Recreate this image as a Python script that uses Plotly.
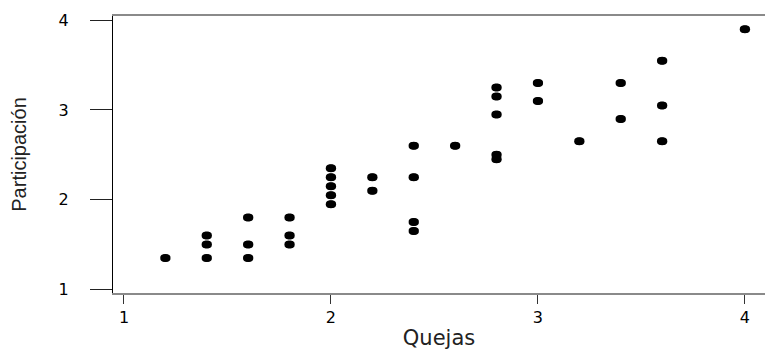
import plotly.graph_objects as go

# Quejas (complaints) vs Participación (participation) scores
quejas = [1.2,
          1.4, 1.4, 1.4,
          1.6, 1.6, 1.6,
          1.8, 1.8, 1.8,
          2.0, 2.0, 2.0, 2.0, 2.0,
          2.2, 2.2,
          2.4, 2.4, 2.4, 2.4,
          2.6,
          2.8, 2.8, 2.8, 2.8, 2.8,
          3.0, 3.0,
          3.2,
          3.4, 3.4,
          3.6, 3.6, 3.6,
          4.0]
participacion = [1.35,
                 1.35, 1.5, 1.6,
                 1.35, 1.5, 1.8,
                 1.5, 1.6, 1.8,
                 1.95, 2.05, 2.15, 2.25, 2.35,
                 2.1, 2.25,
                 1.65, 1.75, 2.25, 2.6,
                 2.6,
                 2.45, 2.5, 2.95, 3.15, 3.25,
                 3.1, 3.3,
                 2.65,
                 2.9, 3.3,
                 2.65, 3.05, 3.55,
                 3.9]
tick_vals = [1, 2, 3, 4]
tick_text = ["1", "2", "3", "4"]

W, H = 765, 350
ML, MR, MT, MB = 113, 0, 16, 57
x_range = [0.947, 4.097]
y_range = [0.959, 4.048]

# points are drawn as flat ellipses: overlapping dots a pixel or two apart
px_per_unit = (W - ML - MR) / (x_range[1] - x_range[0])
dx = 1.4 / px_per_unit

fig = go.Figure()
for off, sz in ((-dx, 7.5), (0.0, 8), (dx, 7.5)):
    fig.add_trace(go.Scatter(
        x=[q + off for q in quejas], y=participacion,
        mode="markers", marker=dict(color="black", size=sz, line=dict(width=0)),
        showlegend=False, hoverinfo="skip" if off else None,
    ))

fig.update_layout(
    width=W, height=H,
    margin=dict(l=ML, r=MR, t=MT, b=MB, pad=0),
    paper_bgcolor="white", plot_bgcolor="white",
    font=dict(family="Arial, Liberation Sans, sans-serif", color="#111"),
    xaxis=dict(
        range=x_range, tickvals=tick_vals, ticktext=tick_text,
        showgrid=False, zeroline=False,
        showline=True, linecolor="#8a8a8a", linewidth=1.5, mirror=True,
        ticks="outside", ticklen=9, tickwidth=1, tickcolor="#333",
        tickfont=dict(family="DejaVu Sans", size=16, color="black"),
        ticklabelstandoff=0,
        title=dict(text="Quejas", font=dict(family="DejaVu Sans", size=21, color="#222"), standoff=6),
    ),
    yaxis=dict(
        range=y_range, tickvals=tick_vals, ticktext=tick_text,
        showgrid=False, zeroline=False,
        showline=True, linecolor="black", linewidth=1.2, mirror=False,
        ticks="outside", ticklen=22, tickwidth=1, tickcolor="#222",
        tickfont=dict(family="DejaVu Sans", size=16, color="black"),
        ticklabelstandoff=18,
        title=dict(text="Participación", font=dict(family="Liberation Sans, Arial", size=20, color="#222"), standoff=26),
    ),
)

fig.write_html("out.html")
